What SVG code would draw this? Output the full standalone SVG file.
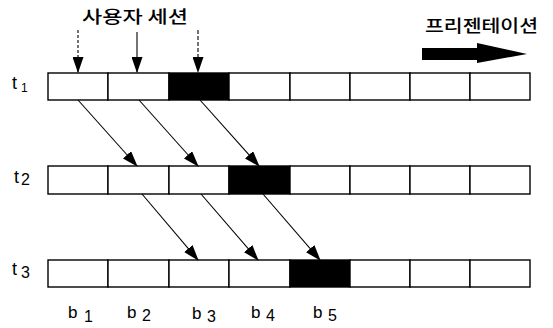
<svg xmlns="http://www.w3.org/2000/svg" width="553" height="328" viewBox="0 0 553 328">
<defs>
<marker id="ah" markerWidth="16" markerHeight="11" refX="15" refY="5.5" orient="auto" markerUnits="userSpaceOnUse">
<path d="M0,0 L16,5.5 L0,11 Z" fill="#000"/>
</marker>
<style>
.cell{fill:#fff;stroke:#000;stroke-width:1.4}
.blk{fill:#000;stroke:#000;stroke-width:1.4}
.con{stroke:#000;stroke-width:1.1;fill:none;marker-end:url(#ah)}
.lbl{font-family:"Liberation Sans",Arial,sans-serif;fill:#000}
.kr{font-family:"Noto Sans CJK KR","Noto Sans",sans-serif;fill:#000;font-size:17px;font-weight:500}
</style>
</defs>
<rect width="553" height="328" fill="#fff"/>
<g id="title-session"><text class="kr" x="82" y="23" textLength="106" lengthAdjust="spacingAndGlyphs">사용자 세션</text></g>
<g id="title-presentation">
<text class="kr" x="425" y="32" textLength="113" lengthAdjust="spacingAndGlyphs">프리젠테이션</text>
<path d="M422,48 L477,48 L477,43 L527,54 L477,63 L477,60 L422,60 Z" fill="#000"/>
</g>
<g id="row-t1">
<rect class="cell" x="48" y="73" width="60" height="27"/>
<rect class="cell" x="108" y="73" width="61" height="27"/>
<rect class="blk" x="169" y="73" width="60" height="27"/>
<rect class="cell" x="229" y="73" width="61" height="27"/>
<rect class="cell" x="290" y="73" width="60" height="27"/>
<rect class="cell" x="350" y="73" width="60" height="27"/>
<rect class="cell" x="410" y="73" width="60" height="27"/>
<rect class="cell" x="470" y="73" width="60" height="27"/>
<text class="lbl" x="12" y="89" font-size="18">t</text><text class="lbl" x="21" y="92" font-size="12">1</text>
</g>
<g id="row-t2">
<rect class="cell" x="48" y="166" width="60" height="28"/>
<rect class="cell" x="108" y="166" width="61" height="28"/>
<rect class="cell" x="169" y="166" width="60" height="28"/>
<rect class="blk" x="229" y="166" width="61" height="28"/>
<rect class="cell" x="290" y="166" width="60" height="28"/>
<rect class="cell" x="350" y="166" width="60" height="28"/>
<rect class="cell" x="410" y="166" width="60" height="28"/>
<rect class="cell" x="470" y="166" width="60" height="28"/>
<text class="lbl" x="14" y="183" font-size="18">t</text><text class="lbl" x="21" y="185" font-size="16">2</text>
</g>
<g id="row-t3">
<rect class="cell" x="48" y="260" width="60" height="27"/>
<rect class="cell" x="108" y="260" width="61" height="27"/>
<rect class="cell" x="169" y="260" width="60" height="27"/>
<rect class="cell" x="229" y="260" width="61" height="27"/>
<rect class="blk" x="290" y="260" width="60" height="27"/>
<rect class="cell" x="350" y="260" width="60" height="27"/>
<rect class="cell" x="410" y="260" width="60" height="27"/>
<rect class="cell" x="470" y="260" width="60" height="27"/>
<text class="lbl" x="12" y="275" font-size="18">t</text><text class="lbl" x="21" y="278" font-size="16">3</text>
</g>
<g id="block-labels">
<text class="lbl" x="68" y="318" font-size="17">b</text><text class="lbl" x="84" y="322" font-size="16">1</text>
<text class="lbl" x="127" y="318" font-size="17">b</text><text class="lbl" x="142" y="321" font-size="16">2</text>
<text class="lbl" x="192" y="319" font-size="17">b</text><text class="lbl" x="207" y="322" font-size="16">3</text>
<text class="lbl" x="251" y="318" font-size="17">b</text><text class="lbl" x="266" y="321" font-size="16">4</text>
<text class="lbl" x="313" y="318" font-size="17">b</text><text class="lbl" x="328" y="321" font-size="16">5</text>
</g>
<g id="connectors">
<line class="con" x1="78" y1="30" x2="78" y2="72" stroke-dasharray="3,2" stroke="#555"/>
<line class="con" x1="137" y1="32" x2="137" y2="72"/>
<line class="con" x1="198" y1="30" x2="198" y2="72" stroke-dasharray="4,2"/>
<line class="con" x1="78" y1="100" x2="137" y2="166"/>
<line class="con" x1="139" y1="100" x2="198" y2="166"/>
<line class="con" x1="200" y1="100" x2="259" y2="166"/>
<line class="con" x1="142" y1="194" x2="198" y2="260"/>
<line class="con" x1="201" y1="194" x2="258" y2="260"/>
<line class="con" x1="263" y1="194" x2="320" y2="260"/>
</g>
</svg>
